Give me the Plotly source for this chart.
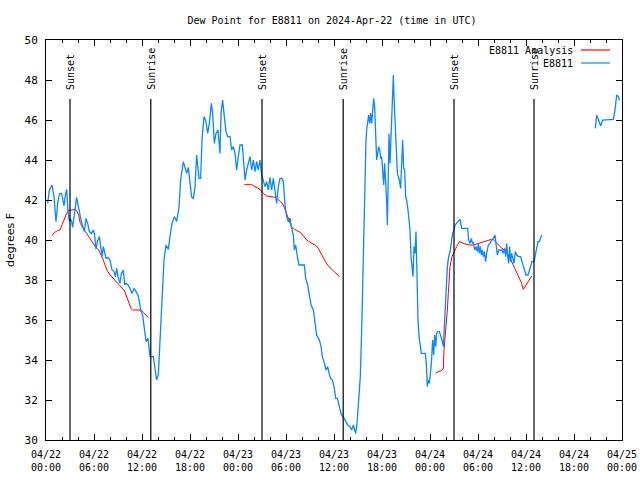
import plotly.graph_objects as go

# hours since 2024-04-22 00:00 UTC
obs_hours = [0.21, 0.42, 0.75, 1.0, 1.25, 1.46, 1.67, 1.92, 2.08, 2.25, 2.42, 2.58, 2.75, 2.92, 3.04, 3.21, 3.33, 3.5, 3.67, 3.83,
             4.0, 4.17, 4.38, 4.58, 4.79, 5.0, 5.21, 5.42, 5.67, 5.92, 6.08, 6.25, 6.42, 6.67, 6.83, 7.0, 7.17, 7.33, 7.5, 7.75,
             8.0, 8.25, 8.5, 8.67, 8.83, 9.0, 9.25, 9.42, 9.67, 9.83, 10.0, 10.25, 10.5, 10.75, 11.0, 11.25, 11.5, 11.67, 11.83, 12.08,
             12.29, 12.5, 12.75, 13.0, 13.42, 13.63, 13.83, 14.04, 14.25, 14.38, 14.54, 14.75, 15.0, 15.29, 15.5, 15.75, 16.04, 16.33, 16.63, 16.83,
             17.17, 17.38, 17.58, 17.79, 18.0, 18.21, 18.42, 18.63, 18.83, 19.13, 19.33, 19.5, 19.75, 20.0, 20.21, 20.42, 20.67, 20.83, 21.04, 21.25,
             21.5, 21.75, 21.88, 22.08, 22.25, 22.5, 22.71, 23.0, 23.21, 23.42, 23.63, 23.83, 24.04, 24.25, 24.54, 24.67, 24.88, 25.08, 25.29, 25.5,
             25.71, 25.92, 26.13, 26.33, 26.54, 26.75, 26.96, 27.17, 27.38, 27.58, 27.79, 28.0, 28.21, 28.42, 28.63, 28.83, 29.04, 29.25, 29.46, 29.67,
             29.88, 30.08, 30.29, 30.5, 30.71, 30.92, 31.04, 31.21, 31.42, 31.63, 32.29, 32.46, 32.71, 32.92, 33.13, 33.42, 33.63, 33.83, 34.17, 34.38,
             34.54, 34.75, 35.0, 35.21, 35.38, 35.58, 35.79, 36.0, 36.21, 36.42, 36.67, 36.88, 37.08, 37.29, 37.5, 37.71, 38.0, 38.21, 38.42, 38.54,
             38.71, 38.88, 39.04, 39.17, 39.29, 39.46, 39.67, 39.88, 40.0, 40.08, 40.21, 40.33, 40.46, 40.58, 40.71, 40.83, 40.96, 41.08, 41.21, 41.33,
             41.46, 41.58, 41.71, 41.83, 41.96, 42.08, 42.21, 42.33, 42.46, 42.58, 42.67, 42.75, 42.88, 43.0, 43.08, 43.21, 43.33, 43.42, 43.5, 43.63,
             43.75, 43.92, 44.04, 44.17, 44.33, 44.46, 44.58, 44.71, 44.83, 44.96, 45.08, 45.25, 45.38, 45.5, 45.63, 45.75, 45.88, 46.0, 46.13, 46.25,
             46.38, 46.5, 46.63, 46.75, 46.92, 47.42, 47.54, 47.67, 47.79, 47.92, 48.04, 48.17, 48.33, 48.46, 48.58, 48.71, 48.83, 48.96, 49.17, 49.33,
             49.5, 49.67, 49.83, 50.0, 50.17, 50.33, 50.5, 50.83, 51.0, 51.13, 51.33, 51.58, 51.75, 51.96, 52.71, 52.83, 53.0, 53.17, 53.29, 53.42,
             53.58, 53.75, 53.92, 54.04, 54.17, 54.29, 54.42, 54.54, 54.67, 54.79, 54.96, 55.08, 55.29, 55.5, 55.71, 55.92, 56.13, 56.25, 56.42, 56.58,
             57.0, 57.17, 57.33, 57.46, 57.58, 57.71, 57.83, 57.96, 58.08, 58.21, 58.38, 58.5, 58.67, 58.83, 59.08, 59.33, 59.5, 59.67, 59.83, 60.0,
             60.25, 60.42, 60.58, 60.75, 61.0, 61.17, 61.33, 61.5, 61.67, 61.83, 61.96, None,
             68.67, 68.83, 69.08, 69.33, 69.58, 70.08, 70.92, 71.13, 71.33, 71.54, 71.67]
obs_dewpt = [41.83, 42.5, 42.75, 42.17, 40.92, 41.83, 42.3, 42.33, 42.08, 41.7, 42.25, 42.53, 41.42, 40.92, 41.08, 40.92, 40.63, 41.17, 41.92, 42.13,
             41.75, 41.33, 41.0, 40.67, 40.42, 41.08, 40.83, 40.42, 40.33, 40.5, 40.25, 39.53, 39.92, 40.17, 39.58, 39.17, 39.67, 39.33, 39.08, 39.13,
             39.0, 38.5, 38.42, 38.17, 38.58, 38.17, 37.83, 38.33, 38.5, 37.75, 37.83, 37.75, 37.58, 37.33, 37.58, 37.42, 37.25, 36.92, 36.5, 36.25,
             35.67, 34.92, 35.08, 34.17, 34.17, 33.67, 33.0, 33.25, 35.0, 36.17, 38.0, 39.0, 39.75, 39.53, 40.17, 40.83, 41.17, 40.92, 41.67, 43.0,
             43.92, 43.58, 43.33, 43.63, 42.67, 42.13, 42.08, 42.67, 44.25, 43.08, 43.08, 45.0, 46.17, 45.92, 45.33, 45.83, 46.83, 46.33, 44.83, 45.33,
             45.5, 44.33, 46.33, 47.0, 46.33, 45.42, 45.17, 45.17, 44.5, 44.67, 44.33, 43.5, 44.17, 44.75, 44.75, 43.92, 43.0, 43.5, 43.92, 44.17,
             43.5, 44.0, 43.42, 43.92, 43.5, 44.0, 43.25, 42.92, 42.67, 42.92, 42.5, 43.13, 42.5, 43.08, 42.33, 41.83, 42.67, 43.08, 43.08, 42.92,
             41.75, 41.17, 40.92, 41.08, 40.58, 40.25, 39.5, 39.75, 39.17, 38.75, 38.75, 38.08, 37.75, 37.17, 36.75, 36.5, 35.67, 35.25, 35.0, 34.67,
             34.17, 33.92, 33.5, 33.67, 33.33, 33.08, 33.0, 32.67, 32.08, 32.08, 31.67, 31.33, 31.17, 31.08, 30.92, 30.75, 30.67, 30.5, 30.75, 30.58,
             30.33, 30.83, 31.83, 32.58, 33.17, 35.5, 39.5, 43.92, 45.0, 45.5, 46.0, 46.25, 45.83, 46.33, 45.83, 46.67, 47.08, 46.67, 44.5, 44.0,
             44.33, 44.67, 44.5, 44.08, 44.17, 43.33, 42.75, 43.83, 43.0, 42.0, 40.75, 42.33, 45.33, 43.83, 44.58, 46.5, 47.5, 48.25, 47.17, 45.67,
             44.58, 43.33, 43.17, 43.0, 42.58, 43.92, 45.0, 43.58, 43.5, 42.17, 42.0, 41.5, 41.0, 40.5, 39.17, 38.67, 38.17, 39.67, 39.33, 40.42,
             37.5, 36.0, 35.17, 34.67, 34.33, 34.33, 33.83, 32.67, 33.0, 32.83, 33.33, 33.83, 35.0, 34.25, 35.25, 34.67, 35.33, 35.42, 35.42, 35.25,
             35.0, 34.67, 36.0, 37.0, 38.67, 39.17, 39.4, 40.33, 40.5, 40.75, 40.83, 40.97, 41.03, 40.58, 40.58, 40.0, 39.83, 40.08, 39.83, 39.9,
             39.5, 39.67, 39.42, 39.83, 39.33, 39.67, 39.25, 39.5, 39.17, 39.42, 38.92, 39.33, 39.75, 39.83, 40.0, 40.08, 40.25, 39.83, 39.25, 39.5,
             39.5, 39.33, 39.58, 39.17, 39.83, 39.17, 38.83, 39.67, 38.92, 39.33, 39.08, 38.83, 39.42, 39.25, 39.17, 39.17, 38.92, 38.67, 38.42, 38.25,
             38.25, 38.5, 38.75, 38.92, 38.92, 39.25, 39.58, 39.92, 39.92, 40.17, 40.25, None,
             45.58, 46.25, 46.0, 45.7, 46.0, 46.0, 46.03, 46.5, 47.25, 47.17, 47.0]

ana_hours = [0.75, 1.04, 1.46, 1.75, 2.0, 2.29, 2.58, 2.79, 3.13, 3.67, 3.88, 4.08, 4.29, 4.5, 4.71, 4.92, 5.08, 5.29, 5.5, 5.71,
             5.92, 6.17, 6.38, 6.58, 6.79, 7.0, 7.17, 7.33, 7.5, 7.71, 7.92, 8.13, 8.33, 8.54, 8.75, 8.96, 9.17, 9.38, 9.58, 9.79,
             10.0, 10.21, 10.42, 10.63, 10.83, 11.04, 11.33, 11.67, 11.88, 12.17, 12.5, 12.83, None,
             24.79, 25.71, 26.0, 26.25, 26.54, 26.75, 27.17, 27.58, 28.0, 28.42, 28.75, 29.04, 29.33, 29.67, 30.0, 30.29, 30.5, 30.71, 30.92, 31.25,
             31.54, 31.83, 32.08, 32.33, 32.58, 32.88, 33.21, 33.54, 33.83, 34.04, 34.25, 34.5, 34.75, 35.0, 35.29, 35.58, 35.92, 36.25, 36.67, None,
             48.71, 49.04, 49.46, 49.67, 49.75, 49.92, 50.0, 50.17, 50.29, 50.42, 50.5, 50.75, 51.0, 51.33, 51.67, 51.96, 52.38, 53.0, 53.42, 53.83,
             54.33, 54.88, 55.42, 55.83, 56.13, 56.42, 56.75, 57.17, 57.58, 57.92, 58.21, 58.5, 58.83, 59.17, 59.46, 59.67, 60.0, 60.33, 60.71]
ana_dewpt = [40.22, 40.37, 40.47, 40.5, 40.75, 41.08, 41.33, 41.47, 41.5, 41.53, 41.42, 41.25, 40.83, 40.67, 40.53, 40.42, 40.33, 40.2, 40.03, 39.92,
             39.8, 39.67, 39.58, 39.5, 39.33, 39.17, 39.0, 38.8, 38.58, 38.42, 38.3, 38.2, 38.08, 38.0, 37.92, 37.83, 37.75, 37.67, 37.57, 37.47,
             37.25, 37.0, 36.78, 36.58, 36.5, 36.5, 36.53, 36.53, 36.5, 36.37, 36.25, 36.12, None,
             42.78, 42.78, 42.7, 42.63, 42.55, 42.53, 42.33, 42.2, 42.17, 42.13, 42.13, 42.0, 41.92, 41.75, 41.42, 41.08, 40.92, 40.63, 40.57, 40.5,
             40.45, 40.37, 40.25, 40.13, 40.0, 39.92, 39.83, 39.78, 39.7, 39.58, 39.42, 39.2, 39.0, 38.87, 38.7, 38.58, 38.45, 38.33, 38.17, None,
             33.33, 33.42, 33.47, 33.6, 34.5, 35.17, 35.83, 36.5, 37.33, 38.0, 38.67, 39.17, 39.42, 39.67, 39.92, 39.87, 39.8, 39.75, 39.75, 39.8,
             39.87, 39.92, 40.0, 40.05, 39.92, 39.83, 39.67, 39.53, 39.37, 39.17, 38.92, 38.67, 38.37, 38.08, 37.83, 37.53, 37.75, 38.0, 38.2]

sun_labels = ["Sunset", "Sunrise", "Sunset", "Sunrise", "Sunset", "Sunrise"]
sun_hours = [3.0, 13.1, 27.0, 37.15, 51.0, 61.0]

tick_hours = [0, 6, 12, 18, 24, 30, 36, 42, 48, 54, 60, 66, 72]
tick_text = ["04/22<br>00:00", "04/22<br>06:00", "04/22<br>12:00", "04/22<br>18:00",
             "04/23<br>00:00", "04/23<br>06:00", "04/23<br>12:00", "04/23<br>18:00",
             "04/24<br>00:00", "04/24<br>06:00", "04/24<br>12:00", "04/24<br>18:00",
             "04/25<br>00:00"]

series_names = ["E8811 Analysis", "E8811"]
series_colors = ["#ff0000", "#0a88ff"]

MONO = "DejaVu Sans Mono"

fig = go.Figure()
fig.add_trace(go.Scatter(x=ana_hours, y=ana_dewpt, mode="lines", name=series_names[0],
                         line=dict(color=series_colors[0], width=1), connectgaps=False))
fig.add_trace(go.Scatter(x=obs_hours, y=obs_dewpt, mode="lines", name=series_names[1],
                         line=dict(color=series_colors[1], width=1.3), connectgaps=False))

shapes = []
annotations = []
for lab, h in zip(sun_labels, sun_hours):
    shapes.append(dict(type="line", xref="x", yref="y", x0=h, x1=h, y0=30, y1=47.05,
                       line=dict(color="black", width=1.2)))
    annotations.append(dict(x=h, y=47.4, xref="x", yref="y", text=lab, showarrow=False,
                            textangle=-90, xanchor="center", yanchor="bottom",
                            font=dict(family=MONO, size=10, color="black")))

# legend (text on the left, line sample on the right)
for i, (nm, col) in enumerate(zip(series_names, series_colors)):
    ypx = 50 + 13 * i
    yp = (440 - ypx) / 400
    annotations.append(dict(x=(575 - 46) / 576, y=yp, xref="paper", yref="paper", text=nm,
                            showarrow=False, xanchor="right", yanchor="middle",
                            font=dict(family=MONO, size=10, color="black")))
    shapes.append(dict(type="line", xref="paper", yref="paper", x0=(581 - 46) / 576, x1=(610 - 46) / 576,
                       y0=yp, y1=yp, line=dict(color=col, width=1.2)))

# y-axis title
annotations.append(dict(x=-36 / 576, y=0.5, xref="paper", yref="paper", text="degrees F",
                        showarrow=False, textangle=-90, xanchor="center", yanchor="middle",
                        font=dict(family="DejaVu Sans", size=11, color="black")))

fig.update_layout(
    width=640, height=480,
    margin=dict(l=46, r=18, t=40, b=40),
    paper_bgcolor="white", plot_bgcolor="white",
    showlegend=False,
    title=dict(text="Dew Point for E8811 on 2024-Apr-22 (time in UTC)", x=332 / 640, xanchor="center",
               y=1 - 20 / 480, yanchor="middle", font=dict(family=MONO, size=10, color="black")),
    shapes=shapes,
    annotations=annotations,
    xaxis=dict(range=[0, 72], tickvals=tick_hours, ticktext=tick_text, ticks="inside", ticklen=6,
               tickcolor="black", showline=True, linecolor="black", linewidth=1, mirror="ticks",
               showgrid=False, zeroline=False, automargin=False, ticklabelstandoff=5,
               tickfont=dict(family=MONO, size=10, color="black"),
               minor=dict(dtick=2, tick0=0, ticks="inside", ticklen=3, tickcolor="black", showgrid=False)),
    yaxis=dict(range=[30, 50], dtick=2, tick0=30, ticks="inside", ticklen=6, tickcolor="black",
               showline=True, linecolor="black", linewidth=1, mirror="ticks", showgrid=False,
               zeroline=False, automargin=False, ticklabelstandoff=5,
               tickfont=dict(family=MONO, size=11, color="black")),
)

fig.write_html("out.html", config={"displayModeBar": False},
               post_script="document.body.style.margin='0';")
